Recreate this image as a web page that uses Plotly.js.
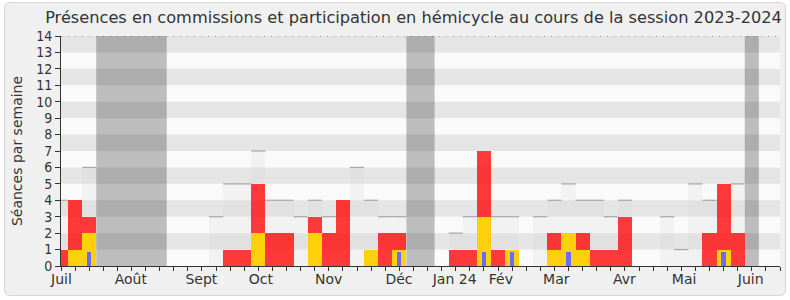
<!DOCTYPE html>
<html>
<head>
<meta charset="utf-8">
<script src="https://cdn.plot.ly/plotly-3.0.1.min.js"></script>
<style>html,body{margin:0;padding:0;background:#fff;}#chart{width:790px;height:300px;}</style>
</head>
<body>
<div id="chart"></div>
<script>
// Weekly values, session 2023-2024 (week index 0..50)
const seances = [4,4,6,0,0,0,0,0,0,0,0,3,5,5,7,4,4,3,4,3,4,6,4,3,3,0,0,0,2,3,7,3,3,0,3,4,5,4,4,3,4,0,0,3,1,5,4,5,5,0,0];
const hemicycle = [1,4,3,0,0,0,0,0,0,0,0,0,1,1,5,2,2,0,3,2,4,0,0,2,2,0,0,0,1,1,7,1,0,0,0,2,0,2,1,1,3,0,0,0,0,0,2,5,2,0,0];
const commissions = [0,1,2,0,0,0,0,0,0,0,0,0,0,0,2,0,0,0,2,0,0,0,1,0,1,0,0,0,0,0,3,0,1,0,0,1,2,1,0,0,0,0,0,0,0,0,0,1,0,0,0];
const questions = [0,0,0.85,0,0,0,0,0,0,0,0,0,0,0,0,0,0,0,0,0,0,0,0,0,0.85,0,0,0,0,0,0.85,0,0.85,0,0,0,0.85,0,0,0,0,0,0,0,0,0,0,0.85,0,0,0];
// Vacation periods (first and last week index)
const vacStart = [3, 25, 49];
const vacEnd = [7, 26, 49];
// Month tick labels
const monthLabels = ["Juil","Août","Sept","Oct","Nov","Déc","Jan 24","Fév","Mar","Avr","Mai","Juin"];
const monthPos = [0.03, 4.95, 9.96, 14.17, 18.98, 23.97, 27.92, 31.2, 35.13, 39.96, 44.2, 48.92];

const weeks = seances.map((v, i) => i);
const XMAX = 51, YMAX = 14;

// ghost top lines (only where not hidden by an activity bar)
const gx = [], gy = [];
seances.forEach((v, i) => {
  if (v > 0 && v > Math.max(hemicycle[i], commissions[i])) { gx.push(i - 0.5, i + 0.5, null); gy.push(v, v, null); }
});

const traces = [
  {type: 'bar', x: weeks, y: seances, width: 1, marker: {color: 'rgba(215,215,215,0.22)', line: {width: 0}}, hoverinfo: 'skip', name: 'Séances'},
  {type: 'bar', x: weeks, y: hemicycle, width: 1, marker: {color: 'rgba(255,10,10,0.8)', line: {width: 0}}, hoverinfo: 'skip', name: 'Hémicycle'},
  {type: 'bar', x: weeks, y: commissions, width: 1, marker: {color: '#ffd10c', line: {width: 0}}, hoverinfo: 'skip', name: 'Commissions'},
  {type: 'bar', x: weeks, y: questions, width: 0.3, marker: {color: '#6b6bff', line: {width: 0}}, hoverinfo: 'skip', name: 'Questions'},
  {type: 'scatter', mode: 'lines', x: gx, y: gy, line: {color: '#aaaaaa', width: 1.3}, hoverinfo: 'skip', name: 'Séances'}
];

// layout helpers (pixel -> paper)
const L = 61, R = 780, T = 36, B = 266;
const PX = p => (p - L) / (R - L);
const PY = p => (B - p) / (B - T);
const bx0 = 4.5, bx1 = 785.5, by0 = 2.5, by1 = 295.5, rr = 6;
const pathPts = [
  ['M', bx0 + rr, by0], ['L', bx1 - rr, by0], ['Q', bx1, by0, bx1, by0 + rr],
  ['L', bx1, by1 - rr], ['Q', bx1, by1, bx1 - rr, by1], ['L', bx0 + rr, by1],
  ['Q', bx0, by1, bx0, by1 - rr], ['L', bx0, by0 + rr], ['Q', bx0, by0, bx0 + rr, by0]
];
const pathStr = pathPts.map(p => {
  let s = p[0];
  for (let k = 1; k < p.length; k += 2) s += ' ' + PX(p[k]).toFixed(5) + ',' + PY(p[k + 1]).toFixed(5);
  return s;
}).join(' ') + ' Z';

const shapes = [
  {type: 'path', xref: 'paper', yref: 'paper', path: pathStr, fillcolor: '#f0f0f0', line: {color: '#d6d6d6', width: 1}, layer: 'below'},
  {type: 'rect', xref: 'x', yref: 'y', x0: 0, x1: XMAX, y0: 0, y1: YMAX, fillcolor: '#fafafa', line: {width: 0}, layer: 'below'}
];
vacStart.forEach((s, k) => shapes.push({type: 'rect', xref: 'x', yref: 'y', x0: s - 0.5, x1: vacEnd[k] + 0.5, y0: 0, y1: YMAX, fillcolor: '#bdbdbd', line: {width: 0}, layer: 'below'}));
for (let y = 1; y < YMAX; y += 2) shapes.push({type: 'rect', xref: 'x', yref: 'y', x0: 0, x1: XMAX, y0: y, y1: y + 1, fillcolor: 'rgba(0,0,0,0.084)', line: {width: 0}, layer: 'below'});
shapes.push({type: 'line', xref: 'x', yref: 'y', x0: 0, x1: XMAX, y0: YMAX, y1: YMAX, line: {color: '#444', width: 1, dash: '1px,6px'}, layer: 'above'});

const yt = []; for (let i = 0; i <= YMAX; i++) yt.push(i);
const xt = []; for (let i = 0; i <= XMAX; i++) xt.push(i);

const layout = {
  width: 790, height: 300,
  margin: {l: L, r: 790 - R, t: T, b: 300 - B, pad: 0},
  paper_bgcolor: '#ffffff', plot_bgcolor: 'rgba(0,0,0,0)',
  barmode: 'overlay', bargap: 0, showlegend: false,
  font: {family: 'DejaVu Sans, sans-serif', color: '#333'},
  title: {text: 'Présences en commissions et participation en hémicycle au cours de la session 2023-2024',
          font: {size: 16.2, color: '#333', family: 'DejaVu Sans, sans-serif'},
          x: 413.5 / 790, xanchor: 'center', xref: 'container', y: 1 - 17 / 300, yanchor: 'middle', yref: 'container'},
  xaxis: {range: [0, XMAX], tickmode: 'array', tickvals: monthPos, ticktext: monthLabels, ticks: '',
          tickfont: {size: 14, color: '#333'}, showgrid: false, zeroline: false, showline: true, linecolor: '#333', linewidth: 1,
          automargin: false, fixedrange: true,
          minor: {tickmode: 'array', tickvals: xt, ticks: 'outside', ticklen: 4, tickcolor: '#333', tickwidth: 1, showgrid: false}},
  yaxis: {range: [0, YMAX], tickmode: 'array', tickvals: yt, ticks: 'outside', ticklen: 5, tickcolor: '#333',
          tickfont: {size: 14, color: '#333', family: 'DejaVu Sans Condensed, DejaVu Sans, sans-serif'},
          showgrid: false, zeroline: false, showline: true, linecolor: '#333', linewidth: 1, automargin: false, fixedrange: true,
          title: {text: 'Séances par semaine', font: {size: 14, color: '#333'}, standoff: 10}},
  shapes: shapes
};

Plotly.newPlot('chart', traces, layout, {displayModeBar: false, staticPlot: true});
</script>
</body>
</html>
